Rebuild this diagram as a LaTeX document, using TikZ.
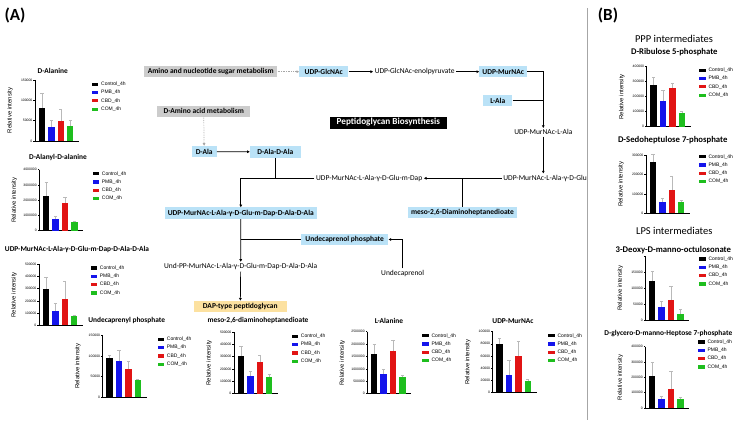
\documentclass[tikz,border=0pt]{standalone}
\usepackage{fontspec}
\setmainfont{Carlito}
\newfontfamily\graphfont{Liberation Sans}
\usetikzlibrary{arrows.meta, positioning, calc}

\newcommand{\fsize}[1]{\fontsize{#1}{#1}\selectfont}

% group colours of the bar charts
\definecolor{grp1}{RGB}{0, 0, 0}
\definecolor{grp2}{RGB}{20, 20, 235}
\definecolor{grp3}{RGB}{225, 20, 20}
\definecolor{grp4}{RGB}{30, 190, 30}

% bar chart: #1 axis origin, #2 axis height, #3 intervals, #4 tick labels, #5 value/error (in intervals)
\newcommand{\intensityplot}[5]{%
  \begin{scope}[shift={#1}]
    \draw[plotaxis] (0,-#2) -- (0,0) -- (44,0);
    \foreach \lab [count=\i] in {#4}
      \draw[plotaxis] (0,{-(\i-1)*#2/#3}) -- ++(-1.8,0) node[ticklabel] {\lab};
    \foreach \val/\err [count=\i] in {#5} {
      \draw[errorbar] ({3.7+(\i-1)*9.4+3.2},{-\val*#2/#3}) -- ++(0,{-(\err-\val)*#2/#3})
        ++(-1.6,0) -- ++(3.2,0);
      \fill[grp\i] ({3.7+(\i-1)*9.4},0) rectangle ++(6.4,{-\val*#2/#3});
    }
    \node[axistitle] at (-25,-#2/2) {Relative intensity};
  \end{scope}}

% legend of the four groups, #1 = left end of first row
\newcommand{\intensitylegend}[1]{%
  \begin{scope}[shift={#1}]
    \foreach \grp [count=\i] in {Control\_4h,PMB\_4h,CBD\_4h,COM\_4h} {
      \fill[grp\i] (0,{(\i-1)*8.3-1.6}) rectangle ++(6.2,3.2);
      \node[legendtext] at (9,{(\i-1)*8.3}) {\grp};
    }
  \end{scope}}

\begin{document}
\begin{tikzpicture}[x=1pt, y=-1pt,
  plotaxis/.style={line width=0.45pt, black},
  ticklabel/.style={anchor=east, inner sep=0.6pt, font=\graphfont\fsize{3.4}},
  errorbar/.style={line width=0.4pt, gray!55},
  axistitle/.style={rotate=90, font=\graphfont\fsize{6}},
  legendtext/.style={anchor=west, inner sep=0pt, font=\graphfont\fsize{5}},
  plottitle/.style={font=\bfseries\fsize{7.4}},
  paneltitle/.style={font=\bfseries\fsize{8.7}},
  grouptitle/.style={font=\fsize{10.5}},
  metabolite/.style={inner sep=1.5pt, font=\fsize{7.5}},
  bluebox/.style={fill=metblue, font=\bfseries\fsize{7.5}, minimum height=11.5, inner xsep=3, inner ysep=0},
  greybox/.style={fill=metgrey, font=\bfseries\fsize{7.5}, minimum height=10.5, inner xsep=3, inner ysep=0},
  dapbox/.style={fill=dapyellow, font=\bfseries\fsize{7.5}, minimum height=11, inner xsep=3, inner ysep=0},
  flow/.style={line width=0.7pt, -{Triangle[length=2.6pt, width=2.6pt]}},
  branchline/.style={line width=0.7pt},
  feed/.style={line width=0.7pt, gray!70, densely dotted, -{Triangle[length=2.6pt, width=2.6pt]}}
]
  % Define colors of the pathway boxes
  \definecolor{metblue}{RGB}{186, 226, 247}
  \definecolor{metgrey}{RGB}{204, 204, 204}
  \definecolor{dapyellow}{RGB}{252, 225, 160}

  \useasboundingbox (0,0) rectangle (753,428);

  % Panel letters and separator
  \node[font=\bfseries\fsize{17}] (panela) at (15,15) {(A)};
  \node[font=\bfseries\fsize{17}] (panelb) at (608,15) {(B)};
  \draw[gray!70, line width=1.6pt] (587.3,8) -- (587.3,420);

  % Pathway
  \node[greybox, minimum width=133.3] (aminosugar) at (210.7,71.7) {Amino and nucleotide sugar metabolism};
  \node[bluebox, minimum width=49] (udpglcnac) at (323.8,71.7) {UDP-GlcNAc};
  \node[metabolite] (enolpyr) at (414.7,71.7) {UDP-GlcNAc-enolpyruvate};
  \node[bluebox, minimum width=41.7] (udpmurnac) at (503.2,71.7) {UDP-MurNAc};
  \node[bluebox, minimum width=29] (lala) at (497.8,100.7) {L-Ala};
  \node[greybox, minimum width=92.7] (daminoacid) at (203.7,111.3) {D-Amino acid metabolism};
  \node[fill=black, text=white, font=\bfseries\fsize{9.2}, minimum width=116.7, minimum height=12, inner sep=0]
    (pgtitle) at (388.3,122.5) {Peptidoglycan Biosynthesis};
  \node[metabolite] (murlala) at (543.3,132.3) {UDP-MurNAc-L-Ala};
  \node[metabolite, anchor=west] (murglu) at (501.7,178.3) {UDP-MurNAc-L-Ala-γ-D-Glu};
  \node[metabolite] (murdap) at (369.2,178.3) {UDP-MurNAc-L-Ala-γ-D-Glu-m-Dap};
  \node[bluebox, minimum width=108.3] (mesodap) at (462.5,212.5) {meso-2,6-Diaminoheptanedioate};
  \node[bluebox, minimum width=25] (dala) at (204.2,151.7) {D-Ala};
  \node[bluebox, minimum width=50.7] (daladala) at (275.3,151.8) {D-Ala-D-Ala};
  \node[bluebox, minimum width=151.7] (murpenta) at (240.8,213.2) {UDP-MurNAc-L-Ala-γ-D-Glu-m-Dap-D-Ala-D-Ala};
  \node[bluebox, minimum width=87.3] (undp) at (344.7,239.5) {Undecaprenol phosphate};
  \node[metabolite] (undecaprenol) at (402.7,273.3) {Undecaprenol};
  \node[metabolite] (lipidii) at (240.7,266.7) {Und-PP-MurNAc-L-Ala-γ-D-Glu-m-Dap-D-Ala-D-Ala};
  \node[dapbox, minimum width=92.7] (dapglycan) at (240.3,306.3) {DAP-type peptidoglycan};

  % Pathway connectors
  \draw[feed] (aminosugar) -- (udpglcnac);
  \draw[flow] (udpglcnac) -- (enolpyr);
  \draw[flow] (enolpyr) -- (udpmurnac);
  \draw[flow] (udpmurnac.east) -| (murlala.north);
  \draw[branchline] (lala.east) -- (lala.east -| murlala.north);
  \draw[feed] (daminoacid) -- (dala);
  \draw[flow] (dala) -- (daladala);
  \draw[flow] (murlala.south) -- (murlala.south |- murglu.north);
  \draw[flow] (murglu.west) -- (murdap.east);
  \draw[branchline] (mesodap.north) -- (mesodap.north |- murglu.west);
  \draw[flow] (murdap.west) -| (murpenta.north);
  \draw[branchline] (daladala.south) -- (daladala.south |- murdap.west);
  \draw[flow] (murpenta) -- (lipidii);
  \draw[branchline] (undp.west) -- (undp.west -| murpenta.south);
  \draw[flow] (undecaprenol.north) |- (undp.east);
  \draw[flow] (lipidii) -- (dapglycan);

  % (A) D-Alanine
  \node[plottitle] (tdala) at (52.8,70.7) {D-Alanine};
  \intensityplot{(35,141)}{61}{3}{0,50000,100000,150000}{1.64/2.36, 0.69/1.03, 0.98/1.57, 0.74/1.03}
  \intensitylegend{(92,84.3)}

  % (A) D-Alanyl-D-alanine
  \node[plottitle] (tdaladala) at (58,157.3) {D-Alanyl-D-alanine};
  \intensityplot{(39.3,230.7)}{61}{4}{0,1000000,2000000,3000000,4000000}{2.28/3.2, 0.75/0.97, 1.84/2.2, 0.57/0.64}
  \intensitylegend{(92.7,173.7)}

  % (A) UDP-MurNAc pentapeptide
  \node[plottitle] (tmurpenta) at (77,249) {UDP-MurNAc-L-Ala-γ-D-Glu-m-Dap-D-Ala-D-Ala};
  \intensityplot{(39,325.3)}{61}{5}{0,100000,200000,300000,400000,500000}{2.97/3.98, 1.17/1.8, 2.16/3.6, 0.76/0.8}
  \intensitylegend{(90.7,268)}

  % (A) Undecaprenyl phosphate
  \node[plottitle] (tundp) at (126.7,320.7) {Undecaprenyl phosphate};
  \intensityplot{(102.7,397.3)}{62}{3}{0,50000,100000,150000}{1.9/2.03, 1.77/2.27, 1.37/1.74, 0.85/0.87}
  \intensitylegend{(157.7,339.3)}

  % (A) meso-2,6-diaminoheptanedioate
  \node[plottitle] (tmeso) at (258,320.7) {meso-2,6-diaminoheptanedioate};
  \intensityplot{(234,393.7)}{61.7}{5}{0,100000,200000,300000,400000,500000}{3.05/3.84, 1.4/1.81, 2.54/3.1, 1.32/1.6}
  \intensitylegend{(291.7,336.3)}

  % (A) L-Alanine
  \node[plottitle] (tlala) at (389,320.7) {L-Alanine};
  \intensityplot{(367.3,393.7)}{62}{5}{0,500000,1000000,1500000,2000000,2500000}{3.18/3.98, 1.56/1.99, 3.44/4.33, 1.32/1.48}
  \intensitylegend{(422.3,335.7)}

  % (A) UDP-MurNAc
  \node[plottitle] (tmurnac) at (513,320.7) {UDP-MurNAc};
  \intensityplot{(492.7,392.3)}{60.6}{5}{0,20000,40000,60000,80000,100000}{3.96/4.5, 1.4/2.67, 3.0/4.24, 0.93/1.1}
  \intensitylegend{(548.3,335.7)}

  % (B) PPP intermediates
  \node[grouptitle] (tppp) at (674,39.3) {PPP intermediates};
  \node[paneltitle] (tribulose) at (674.3,52.3) {D-Ribulose 5-phosphate};
  \intensityplot{(646.7,126.7)}{60}{4}{0,100000,200000,300000,400000}{2.8/3.29, 1.73/2.4, 2.58/2.93, 0.89/1.04}
  \intensitylegend{(699.3,70.3)}

  \node[paneltitle] (tsedo) at (672.7,140) {D-Sedoheptulose 7-phosphate};
  \intensityplot{(646,213.3)}{58}{3}{0,100000,200000,300000}{2.67/3.07, 0.6/0.78, 1.21/1.9, 0.57/0.69}
  \intensitylegend{(699.3,156.7)}

  % (B) LPS intermediates
  \node[grouptitle] (tlps) at (674.3,230.7) {LPS intermediates};
  \node[paneltitle] (tkdo) at (673.3,249.7) {3-Deoxy-D-manno-octulosonate};
  \intensityplot{(645.3,320)}{64}{4}{0,50000,100000,150000,{}}{2.44/3.04, 0.79/1.2, 1.25/2.1, 0.375/0.69}
  \intensitylegend{(699.3,259)}

  \node[paneltitle, font=\bfseries\fsize{7.4}] (theptose) at (668.3,334) {D-glycero-D-manno-Heptose 7-phosphate};
  \intensityplot{(645.3,408)}{61.3}{4}{0,100000,200000,300000,400000}{2.09/2.96, 0.57/0.8, 1.22/2.42, 0.57/0.7}
  \intensitylegend{(698.3,342)}

\end{tikzpicture}
\end{document}
